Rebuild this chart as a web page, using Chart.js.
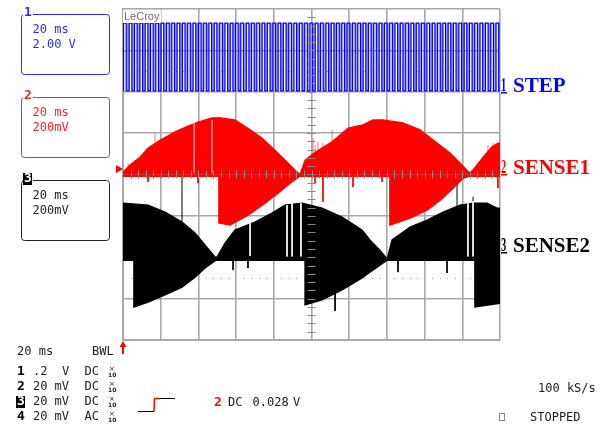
<!DOCTYPE html>
<html>
<head>
<meta charset="utf-8">
<script src="https://cdn.jsdelivr.net/npm/chart.js@4.4.1/dist/chart.umd.min.js"></script>
<style>
  html, body { margin: 0; padding: 0; background: #fff; }
  canvas { display: block; }
</style>
</head>
<body>
<canvas id="scope" width="606" height="428"></canvas>
<script>
// time in ms (20 ms/div, 10 div), vertical in screen divisions (-4..4)

// channel 1 STEP : rising edges of the clock (ms), pulse length, low/high level (div)
const stepRiseMs = [0.3, 3.3, 6.1, 9.0, 11.8, 14.6, 17.4, 20.2, 23.1, 25.9, 28.7, 31.5, 34.3, 37.2,
  40.0, 42.8, 45.6, 48.4, 51.3, 54.1, 56.9, 59.7, 62.5, 65.4, 68.2, 71.0, 73.8, 76.6, 79.5, 82.3,
  85.1, 87.9, 90.7, 93.6, 96.4, 99.2, 102.0, 104.8, 107.7, 110.5, 113.3, 116.1, 118.9, 121.8,
  124.6, 127.4, 130.2, 133.0, 135.9, 138.7, 141.5, 144.3, 147.1, 150.0, 152.8, 155.6, 158.4,
  161.2, 164.1, 166.9, 169.7, 172.5, 175.3, 178.2, 181.0, 183.8, 186.6, 189.4, 192.3, 195.1, 197.9];
const stepPulseMs = 1.4;
const stepLow = 2.02;
const stepHigh = 3.66;

// channel 2 SENSE1 : envelope [ms, div]
const sense1Upper = [[0, 0.04], [1.1, 0.11], [3.7, 0.23], [9.0, 0.42], [13.3, 0.64], [19.6, 0.83],
  [27.6, 1.03], [34.5, 1.17], [39.8, 1.27], [47.2, 1.37], [51.5, 1.37], [59.4, 1.32], [66.3, 1.12],
  [73.7, 0.88], [80.6, 0.59], [85.9, 0.35], [91.2, 0.11], [93.9, 0.0],
  [96.6, 0.35], [101.9, 0.54], [110.9, 0.79], [119.4, 1.12], [127.3, 1.2], [132.6, 1.32],
  [137.9, 1.32], [148.5, 1.25], [157.6, 1.08], [166.6, 0.76], [173.5, 0.52], [178.8, 0.28],
  [183.8, 0.04], [185.7, 0.11], [191.0, 0.42], [195.8, 0.67], [198.9, 0.76], [200, 0.76]];
const sense1Lower = [[0, -0.04], [50.9, -0.04], [50.9, -1.17], [56.8, -1.22], [66.3, -0.98],
  [75.3, -0.69], [82.2, -0.45], [88.6, -0.21], [93.9, -0.04], [141.6, -0.04], [141.6, -1.22],
  [152.3, -1.05], [161.3, -0.86], [168.2, -0.62], [175.1, -0.33], [180.4, -0.09], [183.8, -0.04],
  [200, -0.04]];
const sense1Base = 0;
const sense1SpikesUp = [[2.7, 0.28], [6.4, 0.35], [9.0, 0.4], [12.7, 0.52], [14.3, 0.59], [17.0, 1.0],
  [18.6, 0.79], [22.3, 0.79], [26.0, 0.88], [100.8, 0.88], [101.9, 0.71], [103.4, 0.79],
  [106.1, 0.76], [110.9, 1.08], [193.6, 0.71], [196.3, 0.76]];
const sense1SpikesDown = [[13.3, -0.18], [39.8, -0.21], [101.9, -0.21], [106.1, -0.66],
  [122.0, -0.3], [137.4, -0.18], [198.9, -0.33]];
const sense1Gaps = [[37.7, 0.04, 1.24], [47.2, 0.04, 1.32]];

// channel 3 SENSE2 : envelope [ms, div]
const sense2Upper = [[0, -0.69], [13.3, -0.74], [22.3, -0.91], [31.3, -1.15], [38.2, -1.41],
  [43.5, -1.7], [48.8, -1.99], [49.3, -2.04], [54.1, -1.66], [59.4, -1.34], [70.0, -1.15],
  [79.0, -0.93], [85.9, -0.74], [95.0, -0.69], [105.6, -0.81], [116.2, -1.03], [126.8, -1.34],
  [131.0, -1.58], [136.3, -1.83], [140.1, -2.04], [142.7, -1.58], [152.3, -1.27], [161.3, -1.1],
  [169.8, -0.91], [178.8, -0.74], [185.7, -0.69], [193.1, -0.69], [198.4, -0.81], [200, -0.81]];
const sense2Lower = [[0, -2.07], [5.8, -2.07], [5.8, -3.2], [13.3, -3.08], [22.3, -2.91],
  [31.3, -2.72], [38.2, -2.48], [43.5, -2.26], [49.3, -2.07], [96.6, -2.07], [96.6, -3.15],
  [105.6, -3.03], [116.2, -2.79], [126.8, -2.5], [131.0, -2.36], [136.3, -2.19], [140.1, -2.07],
  [186.7, -2.07], [186.7, -3.2], [200, -3.11]];
const sense2Base = -2.04;
const sense2SpikesUp = [[31.3, -0.07], [177.2, -0.25], [185.7, -0.54]];
const sense2SpikesDown = [[58.4, -2.31], [66.3, -2.26], [112.5, -3.3], [145.9, -2.36], [171.9, -2.38]];
const sense2Gaps = [[67.4, -1.15, -1.97], [87.0, -0.74, -1.98], [89.7, -0.69, -1.98],
  [94.4, -0.69, -1.98], [183.0, -0.69, -1.98], [185.7, -0.65, -1.98]];

const xy = pairs => pairs.map(([x, y]) => ({ x, y }));

function spikeLines(list, base) {
  const out = [];
  list.forEach(([x, y]) => out.push({ x, y: base }, { x, y }, { x, y: null }));
  return out;
}

function gapLines(list) {
  const out = [];
  list.forEach(([x, y0, y1]) => out.push({ x, y: y0 }, { x, y: y1 }, { x, y: null }));
  return out;
}

function squareWave(rises, width, low, high) {
  const out = [{ x: 0, y: low }];
  rises.forEach(t => out.push({ x: t, y: low }, { x: t, y: high }, { x: t + width, y: high }, { x: t + width, y: low }));
  out.push({ x: 200, y: low });
  return out;
}

const line = (data, color, width, order, extra) => Object.assign({
  data, borderColor: color, borderWidth: width, order,
  pointRadius: 0, tension: 0, fill: false, spanGaps: false
}, extra || {});

// scope decorations: dotted level lines, centre graticule ticks, all placed with the scales
const graticule = {
  id: "graticule",
  beforeDatasetsDraw(chart) {
    const { ctx, scales: { x, y } } = chart;
    ctx.save();
    ctx.fillStyle = "#9a9a9a";
    [2.5, -2.5].forEach(v => {
      const py = Math.round(y.getPixelForValue(v));
      for (let t = 4; t < 200; t += 4) {
        if (t % 20 === 0) continue;
        ctx.fillRect(Math.round(x.getPixelForValue(t)), py, 1, 1);
      }
    });
    ctx.restore();
  },
  afterDatasetsDraw(chart) {
    const { ctx, scales: { x, y } } = chart;
    const cx = x.getPixelForValue(100);
    const cy = y.getPixelForValue(0);
    ctx.save();
    ctx.strokeStyle = "#8a8a8a";
    ctx.lineWidth = 1;
    ctx.beginPath();
    for (let v = -3.8; v < 4; v += 0.2) {
      const py = Math.round(y.getPixelForValue(v)) + 0.5;
      ctx.moveTo(cx - 4, py); ctx.lineTo(cx + 4, py);
    }
    for (let t = 4; t < 200; t += 4) {
      const px = Math.round(x.getPixelForValue(t)) + 0.5;
      ctx.moveTo(px, cy - 4); ctx.lineTo(px, cy + 4);
    }
    ctx.stroke();
    ctx.restore();
  }
};

const MONO = '12px "DejaVu Sans Mono"';

function text(ctx, s, x, y, font, color, align) {
  ctx.font = font;
  ctx.fillStyle = color;
  ctx.textAlign = align || "left";
  ctx.textBaseline = "middle";
  ctx.fillText(s, x, y);
}

function narrowDigit(ctx, d, x, base, color, underline) {
  ctx.save();
  ctx.translate(x, base);
  ctx.scale(0.55, 1);
  ctx.font = 'bold 19px "Liberation Serif"';
  ctx.fillStyle = color;
  ctx.textBaseline = "alphabetic";
  ctx.textAlign = "left";
  ctx.fillText(d, 0, 0);
  ctx.restore();
  if (underline) {
    ctx.fillStyle = color;
    ctx.fillRect(x, base + 1, 6, 1.5);
  }
}

function boldDigit(ctx, d, x, y, color, inverse) {
  if (inverse) {
    ctx.fillStyle = "#000";
    ctx.fillRect(x - 1, y - 6, 9, 12);
    text(ctx, d, x, y, 'bold 13px "DejaVu Sans Mono"', "#fff");
  } else {
    text(ctx, d, x, y, 'bold 13px "DejaVu Sans Mono"', color);
  }
}

function tenX(ctx, x, y) {
  text(ctx, "×", x + 1, y - 3, '7px "DejaVu Sans"', "#222");
  text(ctx, "10", x, y + 3, 'bold 6px "DejaVu Sans"', "#222");
}

const panels = {
  id: "panels",
  afterDraw(chart) {
    const ctx = chart.ctx;
    ctx.save();

    // maker label
    ctx.fillStyle = "#fff";
    ctx.fillRect(123, 10, 38, 13);
    text(ctx, "LeCroy", 124, 17, '11px "Liberation Sans"', "#6e6e6e");

    // channel boxes on the left
    const boxes = [
      { n: "1", top: 14, color: "#2a2aff", lines: ["20 ms", "2.00 V"] },
      { n: "2", top: 97, color: "#ff2020", lines: ["20 ms", "200mV"] },
      { n: "3", top: 180, color: "#222", lines: ["20 ms", "200mV"], inverse: true }
    ];
    boxes.forEach(b => {
      ctx.strokeStyle = b.color;
      ctx.lineWidth = 1;
      ctx.beginPath();
      ctx.roundRect(21.5, b.top + 0.5, 88, 60, 3);
      ctx.stroke();
      ctx.fillStyle = "#fff";
      ctx.fillRect(23, b.top - 7, 10, 12);
      boldDigit(ctx, b.n, 24, b.top - 1, b.color, b.inverse);
      text(ctx, b.lines[0], 32.5, b.top + 16, MONO, b.color);
      text(ctx, b.lines[1], 32.5, b.top + 31, MONO, b.color);
    });

    // trace names on the right
    const names = [
      { n: "1", s: "STEP", base: 92, color: "#0000ff" },
      { n: "2", s: "SENSE1", base: 174, color: "#ff0000" },
      { n: "3", s: "SENSE2", base: 252, color: "#000" }
    ];
    names.forEach(nm => {
      narrowDigit(ctx, nm.n, 501, nm.base - 1, nm.color, true);
      ctx.font = 'bold 21px "Liberation Serif"';
      ctx.fillStyle = nm.color;
      ctx.textAlign = "left";
      ctx.textBaseline = "alphabetic";
      ctx.fillText(nm.s, 513, nm.base);
    });

    // channel 2 offset marker
    ctx.fillStyle = "#ff0000";
    ctx.beginPath();
    ctx.moveTo(116, 165); ctx.lineTo(123, 169); ctx.lineTo(116, 173);
    ctx.closePath(); ctx.fill();

    // trigger position arrow
    ctx.fillRect(122, 345, 2, 9);
    ctx.beginPath();
    ctx.moveTo(119.5, 347); ctx.lineTo(123, 341); ctx.lineTo(126.5, 347);
    ctx.closePath(); ctx.fill();

    // bottom status text
    const ink = "#1a1a1a";
    text(ctx, "20 ms", 17, 352, MONO, ink);
    text(ctx, "BWL", 92, 352, MONO, ink);
    const rows = [
      { n: "1", v: ".2", u: "V", c: "DC" },
      { n: "2", v: "20", u: "mV", c: "DC" },
      { n: "3", v: "20", u: "mV", c: "DC", inverse: true },
      { n: "4", v: "20", u: "mV", c: "AC" }
    ];
    rows.forEach((r, i) => {
      const y = 372 + i * 15;
      boldDigit(ctx, r.n, 17, y, "#000", r.inverse);
      text(ctx, r.v, 33, y, MONO, ink);
      text(ctx, r.u, r.u === "V" ? 62 : 54.5, y, MONO, ink);
      text(ctx, r.c, 84.5, y, MONO, ink);
      tenX(ctx, 108, y);
    });

    // trigger slope icon
    ctx.lineWidth = 1;
    ctx.strokeStyle = "#000";
    ctx.beginPath();
    ctx.moveTo(138, 411.5); ctx.lineTo(154, 411.5);
    ctx.moveTo(160, 398.5); ctx.lineTo(175, 398.5);
    ctx.stroke();
    ctx.strokeStyle = "#ff0000";
    ctx.lineWidth = 1.5;
    ctx.beginPath();
    ctx.moveTo(154, 411.5); ctx.lineTo(154.5, 398.5); ctx.lineTo(160, 398.5);
    ctx.stroke();

    boldDigit(ctx, "2", 214, 403, "#ff0000");
    text(ctx, "DC", 228, 403, MONO, ink);
    text(ctx, "0.028", 252.5, 403, MONO, ink);
    text(ctx, "V", 293, 403, MONO, ink);

    text(ctx, "100 kS/s", 538, 389, MONO, ink);
    ctx.strokeStyle = "#888";
    ctx.lineWidth = 1;
    ctx.strokeRect(499.5, 413.5, 5, 7);
    text(ctx, "STOPPED", 530, 418, MONO, ink);

    ctx.restore();
  }
};

const grid = {
  color: "#a8a8a8",
  lineWidth: 1.6,
  drawTicks: false
};

new Chart(document.getElementById("scope"), {
  type: "line",
  data: {
    datasets: [
      // channel 1
      line(squareWave(stepRiseMs, stepPulseMs, stepLow, stepHigh), "#0000ff", 1.2, 0,
        { fill: { value: stepHigh }, backgroundColor: "rgba(90,90,255,0.62)" }),
      // channel 2
      line(gapLines(sense1Gaps), "rgba(255,255,255,0.9)", 1, 1),
      line(xy(sense1Upper), "#ff0000", 1.2, 2, { fill: { value: sense1Base }, backgroundColor: "#ff0000" }),
      line(xy(sense1Lower), "#ff0000", 1.5, 2, { fill: { value: sense1Base }, backgroundColor: "#ff0000" }),
      line(spikeLines(sense1SpikesUp, sense1Base), "rgba(255,70,70,0.75)", 1, 3),
      line(spikeLines(sense1SpikesDown, sense1Base), "#ff0000", 1, 3),
      // channel 3
      line(gapLines(sense2Gaps), "#ffffff", 1, 4),
      line(spikeLines(sense2SpikesUp, sense2Base), "#000", 1, 5),
      line(spikeLines(sense2SpikesDown, sense2Base), "#000", 1, 5),
      line(xy(sense2Upper), "#000", 1.2, 6, { fill: { value: sense2Base }, backgroundColor: "#000" }),
      line(xy(sense2Lower), "#000", 1.5, 6, { fill: { value: sense2Base }, backgroundColor: "#000" })
    ]
  },
  options: {
    responsive: false,
    animation: false,
    devicePixelRatio: 1,
    layout: { padding: { left: 123, right: 106, top: 9, bottom: 88 } },
    plugins: {
      legend: { display: false },
      tooltip: { enabled: false }
    },
    scales: {
      x: {
        type: "linear", min: 0, max: 200,
        ticks: { stepSize: 20, display: false },
        grid: grid,
        border: { color: "#a8a8a8", width: 2 }
      },
      y: {
        type: "linear", min: -4, max: 4,
        ticks: { stepSize: 1, display: false },
        grid: grid,
        border: { color: "#a8a8a8", width: 2 }
      }
    }
  },
  plugins: [graticule, panels]
});
</script>
</body>
</html>
